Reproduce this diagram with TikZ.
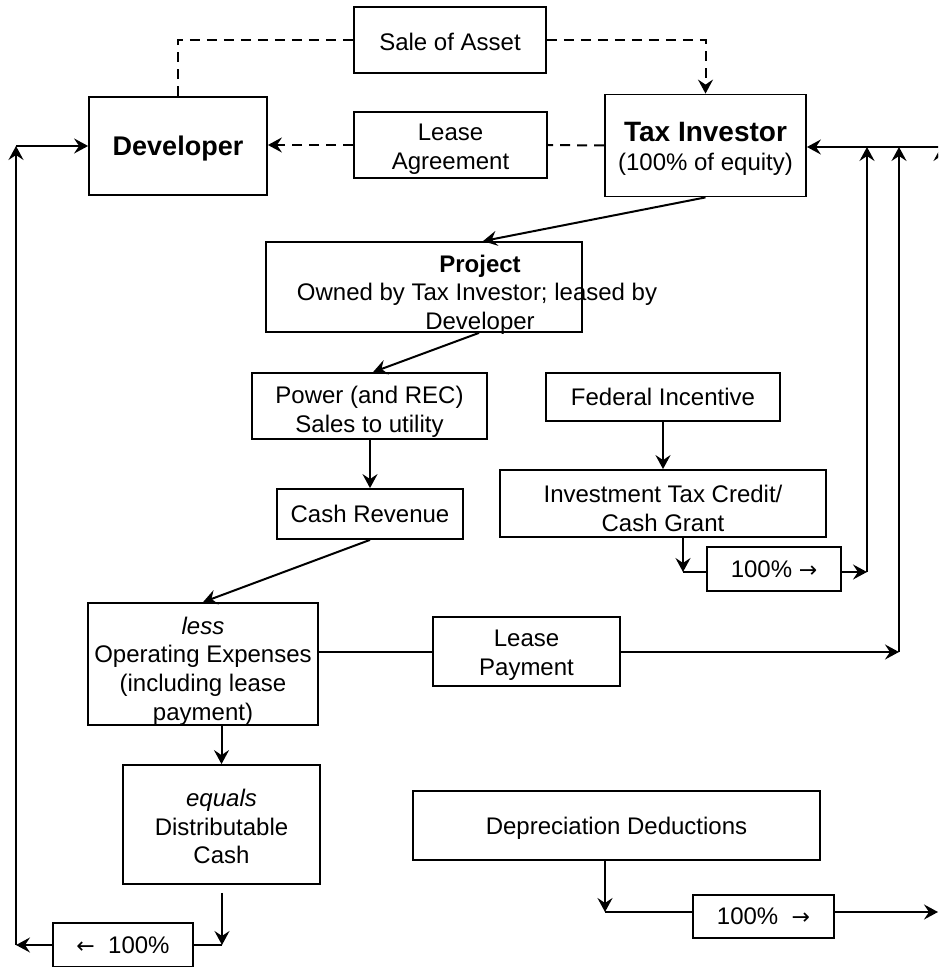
\documentclass[tikz,border=0pt]{standalone}
\usepackage{fontspec}
\setmainfont{Liberation Sans}
\newfontfamily\arrowfont{DejaVu Sans}
\usetikzlibrary{arrows.meta}
\newcommand{\mkbox}[6]{%
  \node[boxshape, minimum width=#3, minimum height=#4] (#1) at #2 {};
  \node[txt, yshift=#5] (#1t) at (#1) {#6};}
\newcommand{\arr}[1]{{\arrowfont\fontsize{11}{12}\selectfont #1}}
\begin{document}
\begin{tikzpicture}[x=0.5pt,y=-0.5pt,
  boxshape/.style={draw, line width=0.9pt, rectangle, inner sep=0pt},
  txt/.style={inner sep=0pt, align=center, font=\fontsize{12}{14.4}\selectfont},
  tip/.style={-{Stealth[length=7pt,width=7.5pt,inset=2.5pt]}},
  flow/.style={line width=1pt, tip},
  plain/.style={line width=1pt},
  dashflow/.style={line width=1pt, dash pattern=on 5pt off 3.5pt},
]
\useasboundingbox (0,0) rectangle (938,967);
\clip (0,0) rectangle (938,967);

% boxes
\mkbox{sale}{(450,40)}{96pt}{33pt}{-1pt}{Sale of Asset}
\mkbox{dev}{(178,146)}{89pt}{49pt}{-1.5pt}{{\fontsize{13.5}{15}\selectfont\bfseries Developer}}
\mkbox{lagr}{(450.5,145)}{96.5pt}{33pt}{-2.25pt}{Lease\\Agreement}
\mkbox{tax}{(705.5,145.5)}{100.5pt}{51pt}{-1.5pt}{{\fontsize{14}{15}\selectfont\bfseries Tax Investor}\\(100\% of equity)}

\node[boxshape, minimum width=158pt, minimum height=45pt] (proj) at (424,287) {};
\node[txt, font=\fontsize{12}{14}\selectfont\bfseries] (projt) at (480,266) {Project};
\node[txt] (projo) at (477,294.5) {Owned by Tax Investor; leased by};
\node[txt] (projd) at (480,323) {Developer};

\mkbox{power}{(369.5,406)}{117.5pt}{33pt}{-3pt}{Power (and REC)\\Sales to utility}
\mkbox{cash}{(370,514)}{93pt}{25pt}{0pt}{Cash Revenue}
\mkbox{fed}{(663,397)}{117pt}{24pt}{0pt}{Federal Incentive}
\mkbox{itc}{(663,503.5)}{163pt}{33.5pt}{-2.5pt}{Investment Tax Credit/\\Cash Grant}
\mkbox{pctA}{(774,569)}{67pt}{22pt}{0pt}{100\% \arr{→}}
\mkbox{opex}{(203,664)}{115pt}{61pt}{-3.5pt}{\textit{less}\\Operating Expenses\\(including lease\\payment)}
\mkbox{lpay}{(526.5,651.5)}{93.5pt}{34.5pt}{-2pt}{Lease\\Payment}
\mkbox{dist}{(221.5,824.5)}{98.5pt}{59.5pt}{-1pt}{\textit{equals}\\Distributable\\Cash}
\mkbox{dep}{(616.5,825.5)}{203.5pt}{34.5pt}{-1.5pt}{Depreciation Deductions}
\mkbox{pctB}{(763.5,916.5)}{70.5pt}{21.5pt}{0pt}{100\%~ \arr{→}}
\mkbox{back}{(123,945)}{70pt}{22pt}{0pt}{\arr{←}~ 100\%}

% helper points
\coordinate (rail) at (941,147);
\coordinate (cA) at (683,572);
\coordinate (cB) at (867,572);
\coordinate (cC) at (899,652);
\coordinate (cD) at (222,945);
\coordinate (cE) at (16,945);
\coordinate (cF) at (16,146);
\coordinate (cG) at (605,912);
\coordinate (cH) at (938,912);
\coordinate (cI) at (941,912);

% dashed
\draw[dashflow] (dev.north) |- (sale.west);
\draw[dashflow, tip] (sale.east) -| (tax.north);
\draw[dashflow] (tax.west) -- (lagr.east);
\draw[dashflow, tip] (lagr.west) -- (dev.east |- lagr.west);

% flows
\draw[flow] (tax.south) -- ([xshift=29.5pt]proj.north);
\draw[flow] ([xshift=27.5pt]proj.south) -- ([xshift=1.75pt]power.north);
\draw[flow] (power.south -| cash.north) -- (cash.north);
\draw[flow] (cash.south) -- (opex.north);
\draw[flow] (fed.south) -- (itc.north);
\draw[flow] (itc.south -| cA) -- (cA);
\draw[plain] (cA) -- (cA -| pctA.west);
\draw[flow] (pctA.east |- cB) -- (cB);
\draw[flow] (cB) -- (cB |- rail);
\draw[plain] (opex.east |- lpay.west) -- (lpay.west);
\draw[flow] (lpay.east |- cC) -- (cC);
\draw[flow] (cC) -- (cC |- rail);
\draw[flow] (rail) -- (tax.east |- rail);
\draw[flow] (opex.south -| dist.north) -- (dist.north);
\draw[flow] ([yshift=-4pt]dist.south -| cD) -- (cD);
\draw[plain] (cD) -- (back.east);
\draw[flow] (back.west) -- (cE);
\draw[flow] (cE) -- (cF);
\draw[flow] (cF) -- (dev.west |- cF);
\draw[flow] (dep.south -| cG) -- (cG);
\draw[plain] (cG) -- (cG -| pctB.west);
\draw[flow] (pctB.east |- cH) -- (cH);
\draw[flow] (cI) -- (rail);
\end{tikzpicture}
\end{document}
